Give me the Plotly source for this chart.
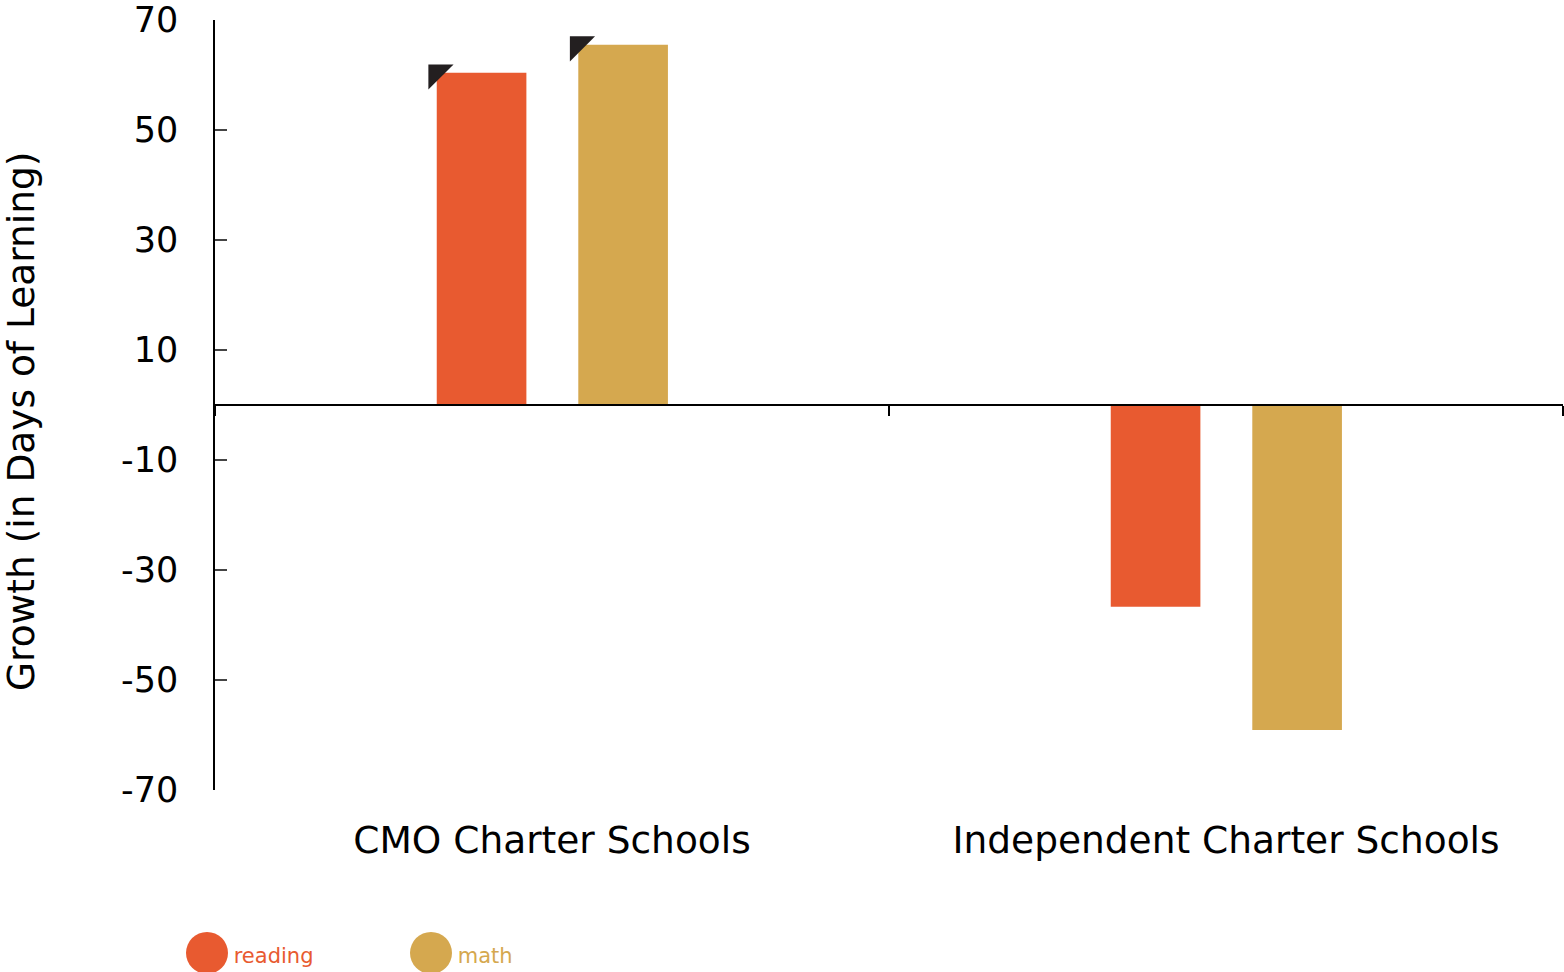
import plotly.graph_objects as go

categories = ["CMO Charter Schools", "Independent Charter Schools"]
series_names = ["reading", "math"]
reading = [60.4, -36.7]
math_vals = [65.5, -59.1]
y_tickvals = [70, 50, 30, 10, -10, -30, -50, -70]
y_ticktext = ["70", "50", "30", "10", "-10", "-30", "-50", "-70"]

COLORS = {"reading": "#E85A30", "math": "#D5A84F"}
DARK = "#231F20"
FONT = "DejaVu Sans"
BAR_W = 0.133
OFFSETS = {"reading": -0.171, "math": 0.039}

xpos = list(range(len(categories)))
values = {"reading": reading, "math": math_vals}

fig = go.Figure()
for name in series_names:
    fig.add_trace(go.Bar(
        x=xpos, y=values[name], width=BAR_W, offset=OFFSETS[name],
        marker=dict(color=COLORS[name], line=dict(width=0)),
        showlegend=False, xaxis="x", yaxis="y", hoverinfo="skip",
    ))

# dark corner caps on positive bars (top-left)
cx, cy = [], []
for name in series_names:
    for i, v in enumerate(values[name]):
        if v > 0:
            cx.append(xpos[i] + OFFSETS[name])
            cy.append(v)
fig.add_trace(go.Scatter(
    x=cx, y=cy, mode="markers", xaxis="x2", yaxis="y",
    marker=dict(symbol="triangle-nw", size=28, color=DARK, line=dict(width=0)),
    showlegend=False, hoverinfo="skip", cliponaxis=False,
))

# custom legend
W, H = 1564, 972
ML, MR, MT, MB = 0, 1, 20, 0
plot_w = W - ML - MR
plot_h = H - MT - MB
AX_LEFT = 215
LEG_SCALE = 224.0  # px per legend slot
leg_r0 = -(207 - ML) / LEG_SCALE

fig.add_trace(go.Scatter(
    x=[0, 1], y=[0.4, 0.4], mode="markers", xaxis="x3", yaxis="y3",
    marker=dict(size=42, color=[COLORS[n] for n in series_names], line=dict(width=0)),
    showlegend=False, hoverinfo="skip", cliponaxis=False,
))
fig.add_trace(go.Scatter(
    x=[0, 1], y=[0.3, 0.3], mode="text", xaxis="x3", yaxis="y3",
    text=["    " + n for n in series_names], textposition="middle right",
    textfont=dict(family=FONT, size=21, color=[COLORS[n] for n in series_names]),
    showlegend=False, hoverinfo="skip", cliponaxis=False,
))

ydom0 = (H - 790 - MB) / plot_h
zero_pos = ydom0 + 0.5 * (1 - ydom0)
xdom0 = (AX_LEFT - ML) / plot_w

fig.update_layout(
    width=W, height=H,
    margin=dict(l=ML, r=MR, t=MT, b=MB, autoexpand=False),
    plot_bgcolor="white", paper_bgcolor="white",
    showlegend=False,
    font=dict(family=FONT, color="black"),
    xaxis=dict(
        range=[-0.5, 1.5], anchor="free", position=zero_pos, domain=[xdom0, 1],
        showline=True, linecolor="black", linewidth=2,
        tickvals=[-0.5, 0.5, 1.5], ticks="outside", ticklen=10, tickwidth=1.5,
        tickcolor="black", showticklabels=False, showgrid=False, zeroline=False,
        automargin=False,
    ),
    xaxis2=dict(
        overlaying="x", matches="x", anchor="y", side="bottom",
        tickvals=xpos, ticktext=categories, ticks="", showline=False,
        showgrid=False, zeroline=False, tickfont=dict(size=37.5, family=FONT),
        ticklabelstandoff=24, automargin=False,
    ),
    yaxis=dict(
        range=[-70, 70], domain=[ydom0, 1], anchor="x",
        tickvals=y_tickvals, ticktext=y_ticktext, ticks="inside", ticklen=12,
        tickwidth=1.5, tickcolor="#444", showline=True, linecolor="black",
        linewidth=1.5, showgrid=False, zeroline=False,
        tickfont=dict(size=35, family=FONT), ticklabelstandoff=28,
        automargin=False, ticklabeloverflow="allow",
    ),
    xaxis3=dict(
        domain=[0, 1], anchor="y3", range=[leg_r0, leg_r0 + plot_w / LEG_SCALE],
        visible=False, fixedrange=True, automargin=False,
    ),
    yaxis3=dict(domain=[0, 0.05], anchor="x3", range=[0, 1], visible=False,
                fixedrange=True, automargin=False),
    annotations=[dict(
        text="Growth (in Days of Learning)", xref="paper", yref="paper",
        x=(21 - ML) / plot_w, y=(H - 422 - MB) / plot_h, xanchor="center", yanchor="middle",
        textangle=-90, showarrow=False, font=dict(size=37.5, family=FONT, color="black"),
    )],
)

fig.write_html(
    "out.html",
    config={"displayModeBar": False},
    post_script="document.body.style.margin='0';document.body.style.overflow='hidden';",
)
